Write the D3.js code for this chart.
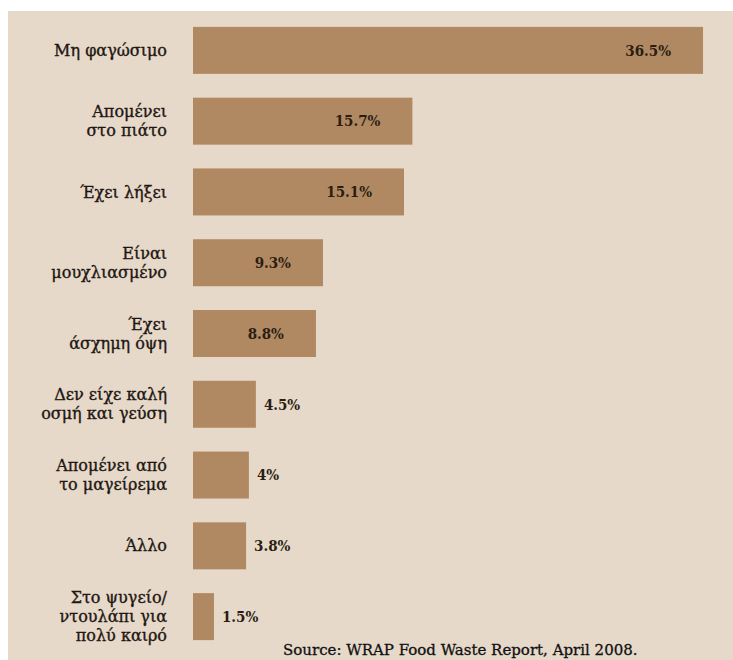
<!DOCTYPE html>
<html>
<head>
<meta charset="utf-8">
<script src="https://cdn.jsdelivr.net/npm/d3@7"></script>
<style>
body { margin: 0; background: #fff; }
text { font-family: "DejaVu Serif", "Liberation Serif", serif; }
</style>
</head>
<body>
<div id="chart"></div>
<script>
// categories (line breaks marked with |) and values in %
var categories = [
    "Μη φαγώσιμο",
    "Απομένει|στο πιάτο",
    "Έχει λήξει",
    "Είναι|μουχλιασμένο",
    "Έχει|άσχημη όψη",
    "Δεν είχε καλή|οσμή και γεύση",
    "Απομένει από|το μαγείρεμα",
    "Άλλο",
    "Στο ψυγείο/|ντουλάπι για|πολύ καιρό"
];
var values = [36.5, 15.7, 15.1, 9.3, 8.8, 4.5, 4, 3.8, 1.5];
var valueLabels = ["36.5%", "15.7%", "15.1%", "9.3%", "8.8%", "4.5%", "4%", "3.8%", "1.5%"];
var source = "Source: WRAP Food Waste Report, April 2008.";

var svgWidth = 733;
var svgHeight = 660;
var barLeft = 193;
var labelRight = 167;

var svg = d3.select("#chart")
    .append("svg")
    .attr("width", svgWidth)
    .attr("height", svgHeight);

// beige panel
svg.append("rect")
    .attr("x", 8)
    .attr("y", 11)
    .attr("width", svgWidth - 8)
    .attr("height", svgHeight - 11)
    .attr("fill", "#e6d9c9");

var xScale = d3.scaleLinear()
    .domain([0, 38])
    .range([barLeft, barLeft + 531]);

var yScale = d3.scaleBand()
    .domain(d3.range(categories.length))
    .range([15, 652])
    .paddingInner(0.336)
    .paddingOuter(0.168);

var rows = svg.append("g").selectAll("g")
    .data(values)
    .enter()
    .append("g");

rows.append("rect")
    .attr("x", xScale(0))
    .attr("y", (d, i) => yScale(i))
    .attr("width", d => xScale(d) - xScale(0))
    .attr("height", yScale.bandwidth())
    .attr("fill", "#b08962");

// value labels: inside for big bars, outside for small ones
rows.append("text")
    .attr("x", d => d > 6 ? xScale(d) - 32 : xScale(d) + 8)
    .attr("y", (d, i) => yScale(i) + yScale.bandwidth() / 2)
    .attr("dy", "0.35em")
    .attr("text-anchor", d => d > 6 ? "end" : "start")
    .attr("font-size", 15)
    .attr("font-weight", "bold")
    .attr("font-stretch", "condensed")
    .attr("fill", "#2b1d12")
    .text((d, i) => valueLabels[i]);

// category labels, one text per line
var lineH = 19;
rows.each(function(d, i) {
    var lines = categories[i].split("|");
    var cy = yScale(i) + yScale.bandwidth() / 2;
    var row = d3.select(this);
    lines.forEach(function(line, j) {
        row.append("text")
            .attr("x", labelRight)
            .attr("y", cy + (j - (lines.length - 1) / 2) * lineH)
            .attr("dy", "0.35em")
            .attr("text-anchor", "end")
            .attr("font-size", 16)
            .attr("fill", "#1e1612")
            .attr("stroke", "#1e1612")
            .attr("stroke-width", 0.35)
            .text(line);
    });
});

svg.append("text")
    .attr("x", 283)
    .attr("y", 655)
    .attr("font-size", 15)
    .attr("fill", "#111")
    .attr("stroke", "#111")
    .attr("stroke-width", 0.3)
    .text(source);
</script>
</body>
</html>
